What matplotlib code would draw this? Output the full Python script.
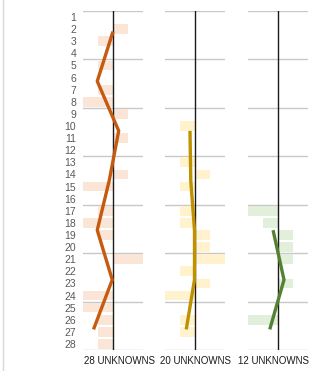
import numpy as np
import matplotlib
matplotlib.use("Agg")
import matplotlib.pyplot as plt

rows = list(range(1, 29))
row_labels = [str(r) for r in rows]

bars_28 = [0, 1, -1, 0, -1, 0, -1, -2, 1, 0, 1, 0, 0, 1, -2, 0, -1, -2, -1, 0, 2, 0, 0, -2, -2, -1, -1, -1]
bars_20 = [0, 0, 0, 0, 0, 0, 0, 0, 0, -1, 0, 0, -1, 1, -1, 0, -1, -1, 1, 1, 2, -1, 1, -2, 0, -1, -1, 0]
bars_12 = [0, 0, 0, 0, 0, 0, 0, 0, 0, 0, 0, 0, 0, 0, 0, 0, -2, -1, 1, 1, 1, 0, 1, 0, 0, -2, 0, 0]

line_rows = [2.2, 6.3, 10.4, 14.5, 18.6, 22.7, 26.8]
line_28 = [0, -1.05, 0.38, -0.25, -1.05, -0.05, -1.3]
line_20 = [np.nan, np.nan, -0.3, -0.25, 0, 0, -0.55]
line_12 = [np.nan, np.nan, np.nan, np.nan, -0.33, 0.4, -0.55]

titles = ["28 UNKNOWNS", "20 UNKNOWNS", "12 UNKNOWNS"]

W, H = 329, 371
fig = plt.figure(figsize=(W / 100, H / 100), dpi=100)
plt.rcParams['font.family'] = ['Liberation Sans', 'DejaVu Sans']

panels = [
    (bars_28, line_28, "#FBE5D6", "#C55A11", 83, 120),
    (bars_20, line_20, "#FFF2CC", "#BF9000", 164.5, 196),
    (bars_12, line_12, "#E2EFDA", "#548235", 248, 274),
]

top_px, bot_px = 11, 350
for i, (bars, line, bcol, lcol, left_px, title_x) in enumerate(panels):
    ax = fig.add_axes([left_px / W, 1 - bot_px / H, 60 / W, (bot_px - top_px) / H])
    ax.set_xlim(-2, 2)
    ax.set_ylim(28.5, 0.5)
    for g in np.arange(0.5, 29, 4):
        ax.axhline(g, color="#c8c8c8", lw=1.0, zorder=0)
    ax.barh(rows, bars, height=0.8, color=bcol, zorder=1)
    ax.axvline(0, color="#1a1a1a", lw=1.0, zorder=2)
    ax.plot(line, line_rows, color=lcol, lw=2.4, zorder=3, solid_capstyle='butt')
    for s in ax.spines.values():
        s.set_visible(False)
    ax.set_xticks([])
    if i == 0:
        ax.set_yticks(rows)
        ax.set_yticklabels(row_labels, fontsize=7.5, color="#595959")
        ax.tick_params(axis='y', length=0, pad=5)
    else:
        ax.set_yticks([])
    fig.text(title_x / W, 1 - 361 / H, titles[i], ha='center', va='center',
             fontsize=7, color="#1a1a1a")

fig.add_artist(plt.Line2D([2.5 / W, 2.5 / W], [0, 1], color="#d9d9d9", lw=1.0))

fig.savefig("out.png", dpi=100)
